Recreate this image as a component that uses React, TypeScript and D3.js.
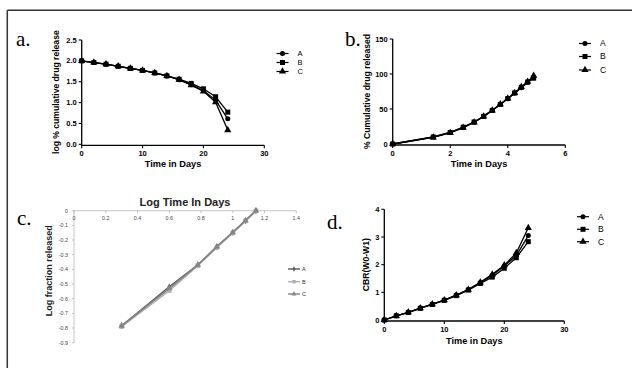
import React from "react";
import * as d3 from "d3";

// ---------- data ----------
const seriesNames = ["A", "B", "C"];

// panel a: log % cumulative drug remaining vs time
const aDays = [0, 2, 4, 6, 8, 10, 12, 14, 16, 18, 20, 22, 24];
const aA = [2.0, 1.96, 1.92, 1.87, 1.82, 1.77, 1.71, 1.64, 1.55, 1.43, 1.29, 1.06, 0.61];
const aB = [2.0, 1.96, 1.92, 1.87, 1.82, 1.77, 1.71, 1.64, 1.56, 1.46, 1.33, 1.14, 0.77];
const aC = [2.0, 1.96, 1.92, 1.87, 1.82, 1.77, 1.71, 1.64, 1.55, 1.42, 1.27, 1.01, 0.34];
const aXTicks = [0, 10, 20, 30];
const aYTicks = [0, 0.5, 1.0, 1.5, 2.0, 2.5];

// panel b: % cumulative drug released vs sqrt time
const bX = [0, 1.41, 2, 2.45, 2.83, 3.16, 3.46, 3.74, 4, 4.24, 4.47, 4.69, 4.9];
const bA = [0, 10, 16.5, 23.5, 31, 39.5, 48, 56.5, 64.5, 72.5, 80.5, 88, 94.5];
const bB = [0, 10, 16.5, 24, 31.5, 39.5, 48, 56.5, 65, 73, 81, 88.5, 94];
const bC = [0, 9.5, 16, 23.5, 31, 39.5, 48, 57, 65, 73, 81.5, 89, 97.5];
const bXTicks = [0, 2, 4, 6];
const bYTicks = [0, 50, 100, 150];

// panel c: log fraction released vs log time
const cX = [0.3, 0.6, 0.78, 0.9, 1.0, 1.08, 1.146];
const cA = [-0.785, -0.52, -0.37, -0.245, -0.148, -0.068, 0];
const cB = [-0.79, -0.545, -0.375, -0.25, -0.152, -0.07, 0];
const cC = [-0.785, -0.53, -0.37, -0.245, -0.148, -0.068, 0];
const cXTicks = [0, 0.2, 0.4, 0.6, 0.8, 1, 1.2, 1.4];
const cYTicks = [0, -0.1, -0.2, -0.3, -0.4, -0.5, -0.6, -0.7, -0.8, -0.9];

// panel d: CBR(W0-W1) vs time
const dDays = [0, 2, 4, 6, 8, 10, 12, 14, 16, 18, 20, 22, 24];
const dA = [0, 0.15, 0.28, 0.43, 0.57, 0.72, 0.9, 1.1, 1.35, 1.62, 1.95, 2.33, 3.05];
const dB = [0, 0.15, 0.27, 0.42, 0.56, 0.71, 0.88, 1.08, 1.32, 1.55, 1.87, 2.25, 2.83];
const dC = [0, 0.15, 0.28, 0.43, 0.57, 0.72, 0.9, 1.1, 1.36, 1.65, 1.98, 2.42, 3.33];
const dXTicks = [0, 10, 20, 30];
const dYTicks = [0, 1, 2, 3, 4];

const SANS = "'Liberation Sans', Arial, sans-serif";
const SERIF = "'Liberation Serif', 'Times New Roman', serif";

type Marker = "circle" | "square" | "triangle" | "diamond";

function markerPath(m: Marker, s: number) {
  if (m === "circle") return d3.symbol(d3.symbolCircle, s * s * 0.8)();
  if (m === "square") return d3.symbol(d3.symbolSquare, s * s)();
  if (m === "diamond") return d3.symbol(d3.symbolDiamond, s * s * 0.7)();
  return d3.symbol(d3.symbolTriangle, s * s * 0.9)();
}

const prismMarkers: Marker[] = ["circle", "square", "triangle"];

function PrismPanel(props: {
  xs: number[];
  series: number[][];
  xDomain: [number, number];
  yDomain: [number, number];
  xRange: [number, number];
  yRange: [number, number];
  xTicks: number[];
  yTicks: number[];
  yFmt: (v: number) => string;
  xTitle: string;
  yTitle: string;
  xTitleY: number;
  yTitleX: number;
  legendX: number;
  legendY: number[];
  legendFont: number;
}) {
  const x = d3.scaleLinear().domain(props.xDomain).range(props.xRange);
  const y = d3.scaleLinear().domain(props.yDomain).range(props.yRange);
  const line = d3
    .line<number>()
    .x((_, i) => x(props.xs[i]))
    .y((v) => y(v));
  const y0 = props.yRange[0];
  const x0 = props.xRange[0];
  return (
    <g>
      {/* y axis */}
      <line x1={x0} x2={x0} y1={props.yRange[1]} y2={y0 + 1} stroke="#000" strokeWidth={1.3} />
      {props.yTicks.map((t) => (
        <g key={"y" + t}>
          <line x1={x0 - 3} x2={x0} y1={y(t)} y2={y(t)} stroke="#000" strokeWidth={1.1} />
          <text x={x0 - 5} y={y(t)} dy="0.35em" textAnchor="end" fontFamily={SANS} fontWeight="bold" fontSize={7.5}>
            {props.yFmt(t)}
          </text>
        </g>
      ))}
      {/* x axis */}
      <line x1={x0 - 0.6} x2={props.xRange[1]} y1={y0 + 1} y2={y0 + 1} stroke="#000" strokeWidth={1.3} />
      {props.xTicks.map((t) => (
        <g key={"x" + t}>
          <line x1={x(t)} x2={x(t)} y1={y0 + 1} y2={y0 + 4} stroke="#000" strokeWidth={1.1} />
          <text x={x(t)} y={y0 + 11.5} textAnchor="middle" fontFamily={SANS} fontWeight="bold" fontSize={7.5}>
            {t}
          </text>
        </g>
      ))}
      <text
        x={(props.xRange[0] + props.xRange[1]) / 2}
        y={props.xTitleY}
        textAnchor="middle"
        fontFamily={SANS}
        fontWeight="bold"
        fontSize={9.2}
      >
        {props.xTitle}
      </text>
      <text
        transform={`translate(${props.yTitleX},${(props.yRange[0] + props.yRange[1]) / 2}) rotate(-90)`}
        textAnchor="middle"
        dy="0.35em"
        fontFamily={SANS}
        fontWeight="bold"
        fontSize={8.6}
      >
        {props.yTitle}
      </text>
      {/* series */}
      {props.series.map((s, si) => (
        <g key={"s" + si}>
          <path d={line(s) || ""} fill="none" stroke="#000" strokeWidth={1.3} />
          {s.map((v, i) => (
            <path
              key={i}
              transform={`translate(${x(props.xs[i])},${y(v)})`}
              d={markerPath(prismMarkers[si], 5) || ""}
              fill="#000"
            />
          ))}
        </g>
      ))}
      {/* legend */}
      {seriesNames.map((n, i) => (
        <g key={"l" + n}>
          <line
            x1={props.legendX - 6}
            x2={props.legendX + 6}
            y1={props.legendY[i]}
            y2={props.legendY[i]}
            stroke="#000"
            strokeWidth={1.2}
          />
          <path
            transform={`translate(${props.legendX},${props.legendY[i]})`}
            d={markerPath(prismMarkers[i], 5) || ""}
            fill="#000"
          />
          <text
            x={props.legendX + 15}
            y={props.legendY[i]}
            dy="0.35em"
            fontFamily={SANS}
            fontSize={props.legendFont}
          >
            {n}
          </text>
        </g>
      ))}
    </g>
  );
}

function ExcelPanel() {
  const x = d3.scaleLinear().domain([0, 1.4]).range([74, 296.3]);
  const y = d3.scaleLinear().domain([0, -0.9]).range([210.7, 342.7]);
  const colors = ["#5a5a5a", "#b0b0b0", "#858585"];
  const markers: Marker[] = ["diamond", "square", "triangle"];
  const series = [cA, cB, cC];
  const line = d3
    .line<number>()
    .x((_, i) => x(cX[i]))
    .y((v) => y(v));
  const legendY = [269, 281.7, 294];
  return (
    <g>
      <line x1={74} x2={296.3} y1={y(0)} y2={y(0)} stroke="#b8b8b8" strokeWidth={0.8} />
      <line x1={74} x2={74} y1={y(0)} y2={y(-0.9)} stroke="#b8b8b8" strokeWidth={0.8} />
      {cXTicks.map((t) => (
        <g key={"x" + t}>
          <line x1={x(t)} x2={x(t)} y1={y(0)} y2={y(0) + 2.5} stroke="#b8b8b8" strokeWidth={0.8} />
          <text x={x(t)} y={y(0) + 9} textAnchor="middle" fontFamily={SANS} fontSize={5.3} fill="#444">
            {t === 0 ? "0" : String(t)}
          </text>
        </g>
      ))}
      {cYTicks.map((t) => (
        <g key={"y" + t}>
          <line x1={72} x2={74} y1={y(t)} y2={y(t)} stroke="#b8b8b8" strokeWidth={0.8} />
          <text x={68} y={y(t)} dy="0.35em" textAnchor="end" fontFamily={SANS} fontSize={5.3} fill="#444">
            {t === 0 ? "0" : t.toFixed(1)}
          </text>
        </g>
      ))}
      <text x={185} y={206} textAnchor="middle" fontFamily={SANS} fontWeight="bold" fontSize={11} fill="#222">
        Log Time In Days
      </text>
      <text
        transform={`translate(49,${(210.7 + 342.7) / 2 - 6}) rotate(-90)`}
        textAnchor="middle"
        dy="0.35em"
        fontFamily={SANS}
        fontWeight="bold"
        fontSize={9}
        fill="#222"
      >
        Log fraction released
      </text>
      {series.map((s, si) => (
        <g key={"s" + si}>
          <path d={line(s) || ""} fill="none" stroke={colors[si]} strokeWidth={1.6} />
          {s.map((v, i) => (
            <path
              key={i}
              transform={`translate(${x(cX[i])},${y(v)})`}
              d={markerPath(markers[si], 4.5) || ""}
              fill={colors[si]}
            />
          ))}
        </g>
      ))}
      {seriesNames.map((n, i) => (
        <g key={"l" + n}>
          <line x1={288} x2={300} y1={legendY[i]} y2={legendY[i]} stroke={colors[i]} strokeWidth={1.4} />
          <path
            transform={`translate(294,${legendY[i]})`}
            d={markerPath(markers[i], 3.5) || ""}
            fill={colors[i]}
          />
          <text x={302} y={legendY[i]} dy="0.35em" fontFamily={SANS} fontSize={5.5} fill="#333">
            {n}
          </text>
        </g>
      ))}
    </g>
  );
}

export default function App() {
  return (
    <svg
      width={632}
      height={368}
      style={{ position: "absolute", left: 0, top: 0, background: "#fff" }}
    >
      <rect x={0} y={0} width={632} height={368} fill="#fff" />
      <line x1={7.3} x2={640} y1={10.3} y2={10.3} stroke="#333" strokeWidth={1.5} />
      <line x1={7.3} x2={7.3} y1={10.3} y2={370} stroke="#333" strokeWidth={1.5} />

      <text x={16} y={46} fontFamily={SERIF} fontSize={21}>a.</text>
      <text x={345} y={46} fontFamily={SERIF} fontSize={21}>b.</text>
      <text x={17} y={225} fontFamily={SERIF} fontSize={21}>c.</text>
      <text x={327} y={229} fontFamily={SERIF} fontSize={21}>d.</text>

      <PrismPanel
        xs={aDays}
        series={[aA, aB, aC]}
        xDomain={[0, 30]}
        yDomain={[0, 2.5]}
        xRange={[81.7, 264.3]}
        yRange={[144.3, 40]}
        xTicks={aXTicks}
        yTicks={aYTicks}
        yFmt={(v) => v.toFixed(1)}
        xTitle="Time in Days"
        yTitle="log % cumulative drug release"
        xTitleY={167}
        yTitleX={56}
        legendX={282.5}
        legendY={[53.5, 62.5, 71.5]}
        legendFont={7.5}
      />
      <PrismPanel
        xs={bX}
        series={[bA, bB, bC]}
        xDomain={[0, 6]}
        yDomain={[0, 150]}
        xRange={[392.7, 565.3]}
        yRange={[144, 39]}
        xTicks={bXTicks}
        yTicks={bYTicks}
        yFmt={(v) => String(v)}
        xTitle="Time in Days"
        yTitle="% Cumulative drug released"
        xTitleY={167}
        yTitleX={366.7}
        legendX={585}
        legendY={[43.5, 56.5, 70]}
        legendFont={8.5}
      />
      <ExcelPanel />
      <PrismPanel
        xs={dDays}
        series={[dA, dB, dC]}
        xDomain={[0, 30]}
        yDomain={[0, 4]}
        xRange={[384.3, 564.3]}
        yRange={[320, 209.3]}
        xTicks={dXTicks}
        yTicks={dYTicks}
        yFmt={(v) => String(v)}
        xTitle="Time in Days"
        yTitle="CBR(W0-W1)"
        xTitleY={344}
        yTitleX={366}
        legendX={583}
        legendY={[216.7, 229.3, 241.7]}
        legendFont={8.5}
      />
    </svg>
  );
}
